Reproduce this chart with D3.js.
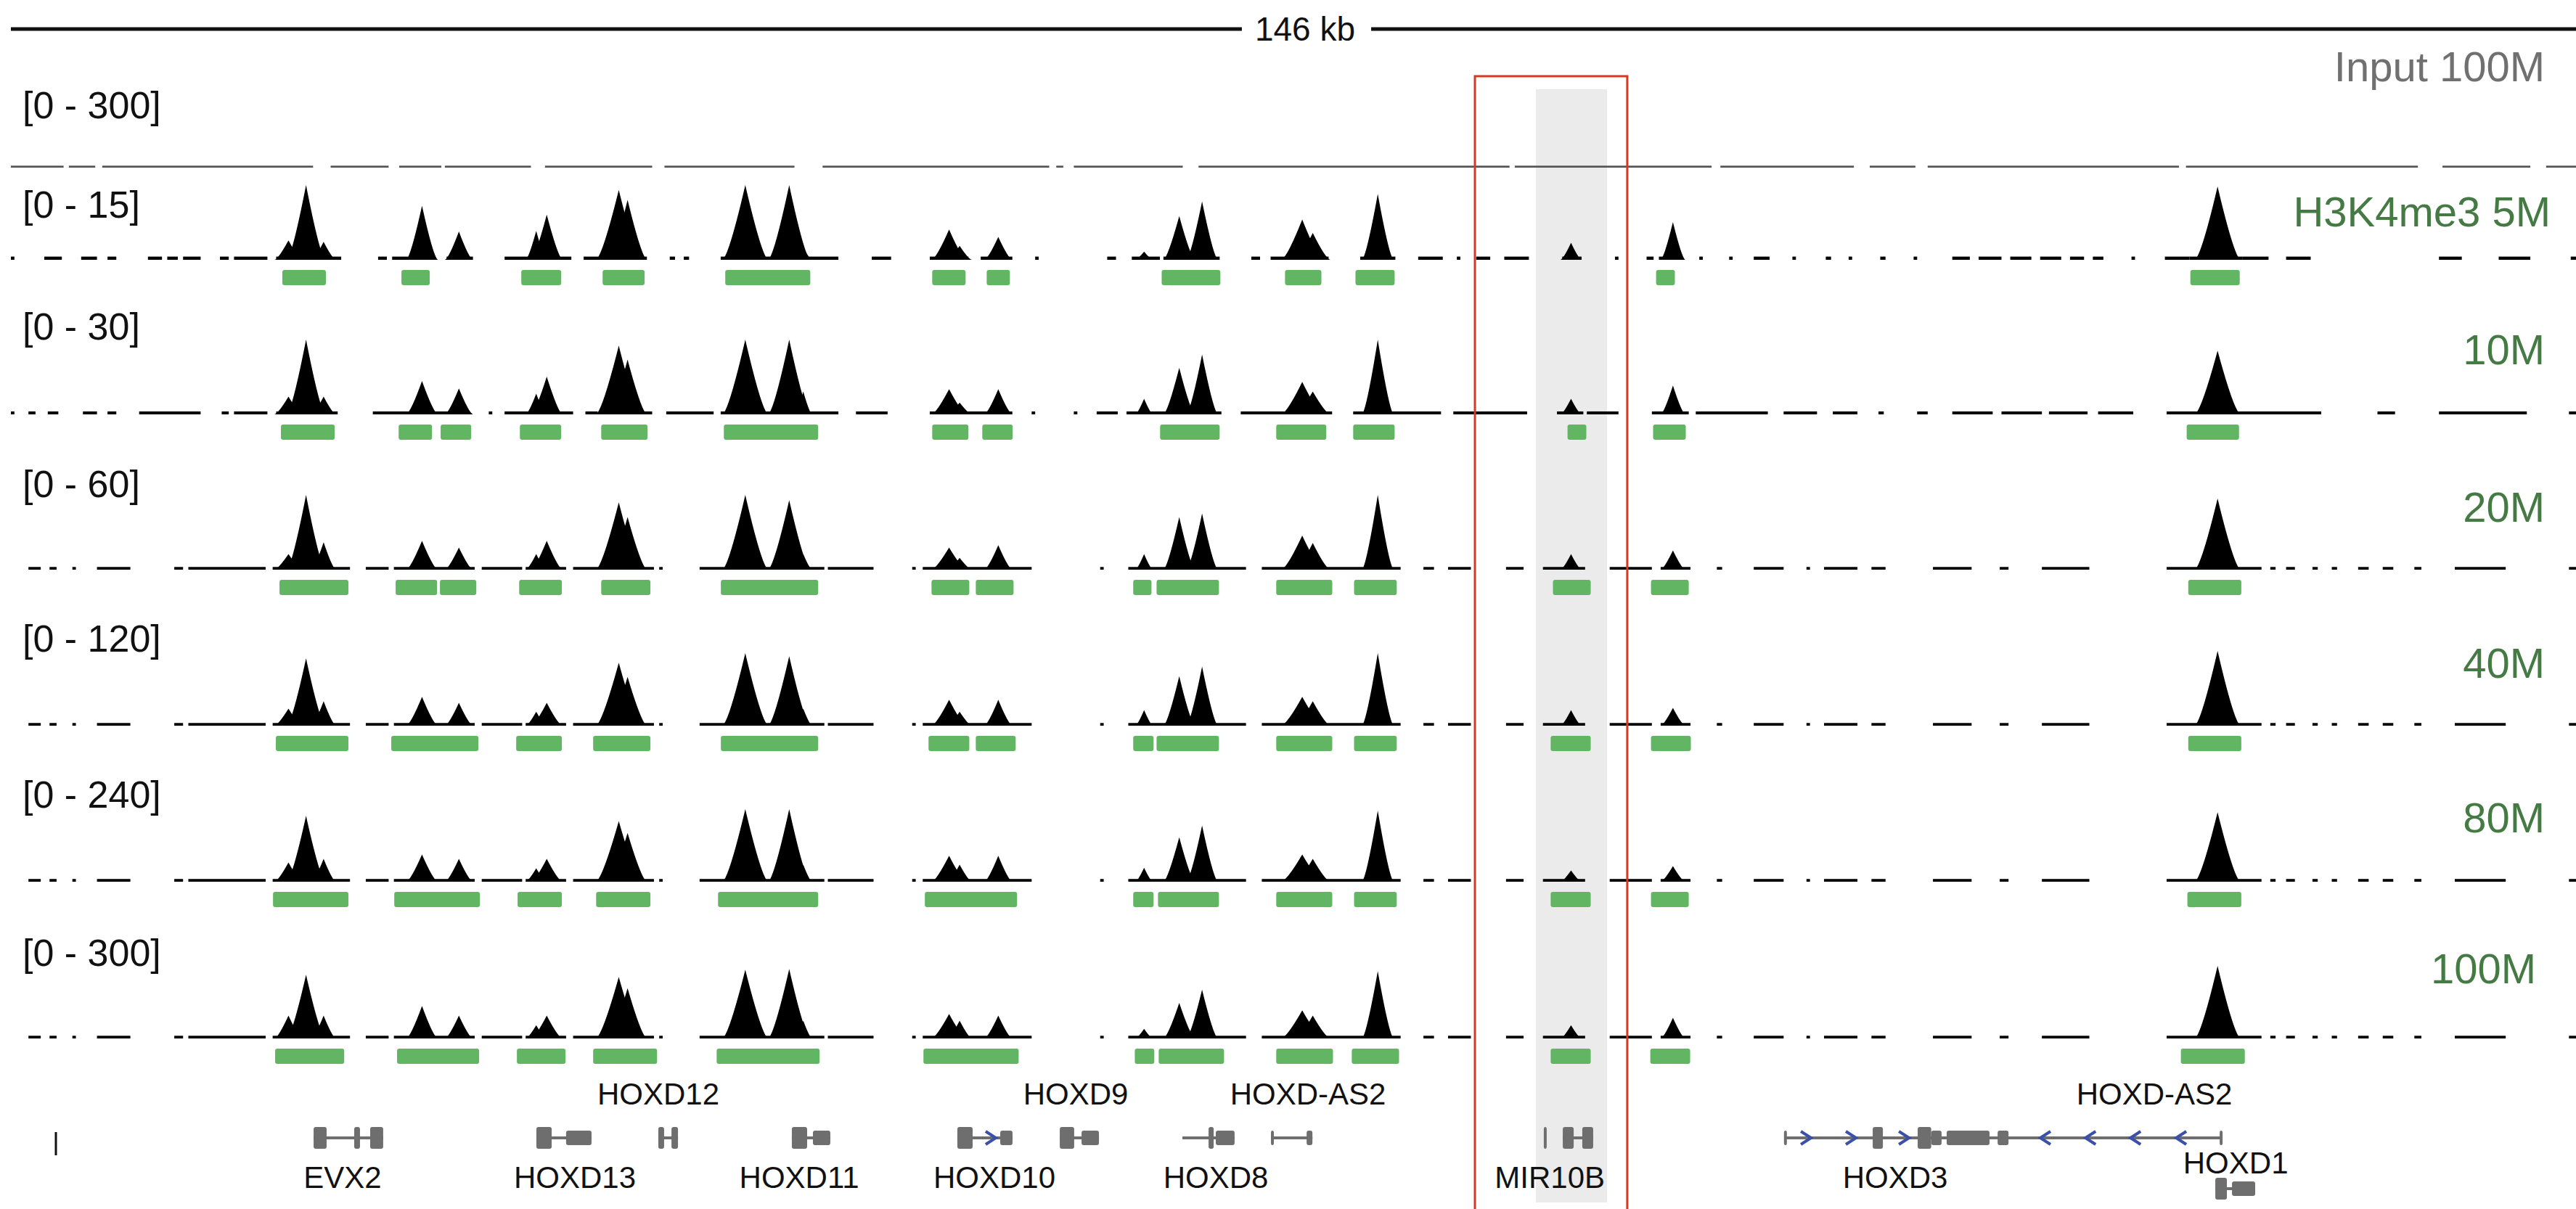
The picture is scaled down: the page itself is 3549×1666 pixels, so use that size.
<!DOCTYPE html>
<html>
<head>
<meta charset="utf-8">
<script src="https://cdn.jsdelivr.net/npm/d3@7"></script>
<style>
  html, body { margin: 0; padding: 0; background: #fff; }
  svg { display: block; font-family: "Liberation Sans", Arial, sans-serif; }
</style>
</head>
<body>
<svg id="chart" width="3549" height="1666"></svg>
<script>
// --- data (all positions in kb inside the 146 kb window) ---
var windowKb = 146;

var trackNames = ['H3K4me3 5M', '10M', '20M', '40M', '80M', '100M'];
var trackRanges = [15, 30, 60, 120, 240, 300];
var bgLevel = [0.5, 0.9, 1.6, 3.2, 6.5, 8];

// sub-peak centres and half widths at the base
var peakKb     = [15.8, 16.8, 17.8, 23.4, 25.5, 29.9, 30.5, 34.6, 35.1, 41.8, 44.3, 45.1, 53.4, 54.0, 56.2, 64.5, 66.5, 67.8, 73.5, 74.1, 77.8, 88.8, 94.6, 125.6];
var peakHalfKb = [0.8, 1.1, 0.7, 0.9, 0.8, 0.6, 0.9, 1.3, 1.1, 1.3, 1.2, 0.5, 1.0, 0.7, 0.8, 0.5, 0.9, 0.9, 1.2, 1.0, 0.9, 0.6, 0.7, 1.3];

var h5M   = [3.8, 15.6, 3.5, 10.8, 5.6, 5.7, 9.0, 14.0, 12.0, 15.6, 15.6, 2.3, 6.0, 2.7, 4.5, 1.5, 8.7, 11.7, 8.0, 5.3, 13.2, 3.3, 7.5, 14.7];
var h10M  = [6.9, 30.6, 6.9, 13.2, 10.2, 8.1, 15.0, 27.6, 21.9, 30.6, 30.6, 9.0, 9.9, 4.5, 9.9, 6.0, 18.6, 24.0, 12.9, 9.0, 30.6, 6.0, 11.4, 25.5];
var h20M  = [12, 60, 21.6, 22.8, 17.4, 12, 22.8, 54, 42, 60, 55.8, 12, 17.4, 9, 19.2, 12, 42, 45, 27, 21, 60, 12, 15, 57];
var h40M  = [26.4, 108, 38.4, 45.6, 36, 21.6, 36, 100.8, 78, 116.4, 111.6, 26.4, 40.8, 21.6, 40.8, 24, 79.2, 94.8, 45.6, 38.4, 116.4, 24, 27.6, 120];
var h80M  = [60, 211, 72, 86, 72, 41, 72, 194, 156, 233, 233, 53, 82, 53, 82, 43, 142, 180, 86, 72, 228, 34, 48, 223];
var h100M = [90, 255, 90, 129, 90, 51, 90, 246, 201, 276, 279, 69, 96, 69, 90, 36, 141, 195, 111, 90, 270, 51, 81, 291];

// peak calls (green bars)
var calls5M = [[15.45,17.93],[22.23,23.84],[29.05,31.32],[33.68,36.07],[40.66,45.50],[52.44,54.34],[55.54,56.86],[65.50,68.84],[72.52,74.59],[76.53,78.76],[93.64,94.71],[124.05,126.86]];
var calls10M = [[15.37,18.43],[22.07,23.97],[24.46,26.20],[28.97,31.32],[33.60,36.24],[40.58,45.95],[52.44,54.50],[55.29,57.02],[65.41,68.80],[72.02,74.87],[76.40,78.76],[88.60,89.67],[93.47,95.33],[123.84,126.82]];
var calls20M = [[15.29,19.21],[21.90,24.26],[24.42,26.49],[28.93,31.36],[33.60,36.40],[40.41,45.95],[52.40,54.55],[54.92,57.07],[63.88,64.92],[65.21,68.76],[72.02,75.21],[76.45,78.88],[87.77,89.92],[93.35,95.50],[123.93,126.95]];
var calls40M = [[15.08,19.21],[21.65,26.61],[28.76,31.36],[33.14,36.40],[40.41,45.95],[52.23,54.55],[54.92,57.19],[63.88,65.04],[65.21,68.76],[72.02,75.21],[76.45,78.88],[87.64,89.92],[93.35,95.62],[123.93,126.95]];
var calls80M = [[14.92,19.21],[21.82,26.69],[28.84,31.36],[33.31,36.40],[40.25,45.95],[52.02,57.27],[63.88,65.04],[65.29,68.76],[72.02,75.21],[76.45,78.88],[87.64,89.92],[93.35,95.50],[123.88,126.95]];
var calls100M = [[15.04,18.97],[21.98,26.65],[28.80,31.57],[33.14,36.78],[40.17,46.03],[51.94,57.36],[63.97,65.08],[65.33,69.05],[72.02,75.25],[76.32,79.01],[87.64,89.92],[93.31,95.58],[123.51,127.15]];

// low background coverage
var inputSegs = [[0,3.0],[3.3,4.8],[5.2,17.2],[18.2,21.5],[22.1,24.5],[24.7,29.6],[30.4,36.5],[37.2,44.6],[46.2,59.1],[59.5,59.9],[60.5,66.7],[67.6,85.3],[85.6,96.8],[97.3,104.9],[105.8,108.4],[109.1,123.4],[123.8,137.0],[138.4,143.4],[144.3,146]];
var bg5M = [[0.0,0.2],[1.9,2.9],[4.0,4.9],[5.5,6.0],[7.8,8.6],[8.9,9.5],[9.8,10.8],[11.9,12.4],[12.7,14.6],[15.1,18.8],[20.9,21.4],[21.7,24.0],[24.8,26.3],[28.1,31.9],[32.6,36.2],[37.5,37.8],[38.3,38.6],[40.4,47.1],[49.0,50.1],[52.3,54.5],[55.2,57.0],[58.3,58.5],[62.4,62.9],[63.8,65.4],[65.6,68.8],[70.6,71.1],[71.7,75.0],[76.8,78.8],[80.1,81.5],[82.3,82.5],[83.4,84.2],[85.0,86.4],[88.3,89.4],[91.3,91.5],[93.1,93.5],[93.8,95.0],[96.1,96.3],[97.8,98.0],[99.2,100.1],[101.4,101.6],[103.3,103.6],[104.6,104.8],[106.4,106.7],[108.3,108.5],[110.5,111.5],[112.0,113.3],[113.8,115.0],[115.5,116.7],[117.2,118.0],[118.5,119.1],[120.7,120.9],[122.6,124.0],[124.0,127.0],[127.0,128.5],[129.5,130.9],[138.2,139.5],[141.6,143.4],[145.7,146]];
var bg10M = [[0.0,0.2],[1.0,1.4],[2.1,2.7],[4.1,4.9],[5.5,6.0],[7.3,10.8],[12.0,12.4],[12.7,14.6],[15.1,18.6],[20.6,26.0],[27.2,27.4],[28.1,32.0],[32.7,33.4],[33.6,36.5],[37.3,40.0],[40.4,47.1],[48.1,49.9],[52.3,57.0],[58.1,58.3],[60.5,60.7],[61.8,63.0],[63.5,68.9],[70.0,75.2],[76.4,81.4],[82.1,86.3],[88.0,89.5],[89.7,91.5],[93.4,95.5],[95.9,100.0],[100.9,102.8],[103.7,105.1],[106.3,106.6],[108.5,109.1],[110.5,112.8],[113.3,115.6],[116.0,118.2],[118.8,120.8],[122.7,131.5],[134.7,135.7],[138.2,143.2],[145.6,146]];
var bgDeep = [[1.0,1.7],[2.2,2.6],[3.5,3.7],[4.9,6.8],[9.3,9.8],[10.1,14.5],[14.9,19.3],[20.2,21.5],[21.8,25.0],[25.2,26.4],[26.8,29.1],[29.3,31.6],[32.0,33.7],[33.9,36.6],[36.9,37.1],[39.2,46.3],[46.5,49.1],[51.3,51.5],[51.9,58.1],[62.0,62.2],[63.6,70.3],[71.2,79.1],[80.4,81.0],[81.8,83.1],[85.1,86.1],[87.2,89.6],[91.0,93.4],[93.9,95.6],[97.1,97.4],[99.2,100.9],[102.2,102.4],[103.2,105.1],[105.9,106.7],[109.4,111.6],[113.2,113.7],[115.6,118.3],[122.7,128.1],[128.6,128.9],[129.5,130.0],[131.0,131.3],[132.1,132.4],[133.6,134.2],[135.0,135.6],[136.8,137.2],[139.1,142.0],[145.6,146]];

// RefSeq genes
var geneNames  = ['HOXD12', 'HOXD9', 'HOXD-AS2', 'HOXD-AS2', 'EVX2', 'HOXD13', 'HOXD11', 'HOXD10', 'HOXD8', 'MIR10B', 'HOXD3', 'HOXD1'];
var geneLabelKb = [36.85, 60.61, 73.83, 122.0, 18.88, 32.10, 44.87, 55.98, 68.58, 87.59, 107.25, 126.63];
var geneLabelRow = [0, 0, 0, 0, 1, 1, 1, 1, 1, 1, 1, 2];
var introns = [[17.23,21.19,0],[29.91,33.05,0],[36.85,37.97,0],[44.45,46.64,0],[53.87,57.01,0],[59.70,61.93,0],[66.68,69.65,0],[71.72,74.08,0],[88.33,90.06,0],[100.97,125.80,0],[125.47,127.74,1]];
var exons = [
  [17.23,17.97,'cds',0],[19.54,19.87,'cds',0],[20.45,21.19,'cds',0],
  [29.91,30.78,'cds',0],[31.60,33.05,'utr',0],
  [36.85,37.18,'cds',0],[37.60,37.97,'cds',0],
  [44.45,45.32,'cds',0],[45.65,46.64,'utr',0],
  [53.87,54.74,'cds',0],[56.31,57.01,'utr',0],
  [59.70,60.52,'cds',0],[60.94,61.93,'utr',0],
  [68.17,68.46,'cds',0],[68.58,69.65,'utr',0],
  [71.72,71.85,'utr',0],[73.75,74.08,'utr',0],
  [87.25,87.33,'cds',0],[88.33,88.95,'cds',0],[89.44,90.06,'cds',0],
  [100.92,101.02,'utr',0],[105.97,106.55,'cds',0],[108.53,109.30,'cds',0],[109.30,109.89,'utr',0],[110.18,112.62,'utr',0],[113.08,113.70,'utr',0],[125.72,125.82,'utr',0],
  [125.47,126.13,'cds',1],[126.42,127.74,'utr',1]
];
var strandArrows = [[55.77,1],[102.17,1],[104.73,1],[107.75,1],[115.80,-1],[118.37,-1],[120.93,-1],[123.53,-1]];

var highlightKb = [86.8, 90.85];
var boxKb = [83.33, 92.0];

// --- drawing ---
var svg = d3.select('#chart');
svg.append('rect').attr('width', 3549).attr('height', 1666).attr('fill', '#fff');

var x = d3.scaleLinear().domain([0, windowKb]).range([15, 3549]);

// grey highlight behind the tracks
svg.append('rect')
  .attr('x', x(highlightKb[0])).attr('y', 123)
  .attr('width', x(highlightKb[1]) - x(highlightKb[0])).attr('height', 1534)
  .attr('fill', '#ebebeb');

// ruler
var rulerY = 40;
var rulerLabel = svg.append('text')
  .attr('x', 1798).attr('y', 56)
  .attr('text-anchor', 'middle').attr('font-size', 46).attr('fill', '#111')
  .text('146 kb');
var bb = rulerLabel.node().getBBox();
svg.append('line').attr('x1', x(0)).attr('x2', bb.x - 18).attr('y1', rulerY).attr('y2', rulerY)
  .attr('stroke', '#111').attr('stroke-width', 5);
svg.append('line').attr('x1', bb.x + bb.width + 22).attr('x2', x(windowKb)).attr('y1', rulerY).attr('y2', rulerY)
  .attr('stroke', '#111').attr('stroke-width', 5);

var trackH = 102;

// input track: faint dashed coverage
var inputBase = 230;
var yIn = d3.scaleLinear().domain([0, 300]).range([inputBase, inputBase - trackH]).clamp(true);
svg.append('g').selectAll('rect').data(inputSegs).enter().append('rect')
  .attr('x', function(d) { return x(d[0]); })
  .attr('width', function(d) { return Math.max(2, x(d[1]) - x(d[0])); })
  .attr('y', yIn(5)).attr('height', inputBase - yIn(5) + 1)
  .attr('fill', '#555');
svg.append('text').attr('x', 31).attr('y', 163).attr('font-size', 52).attr('fill', '#111').text('[0 - 300]');
svg.append('text').attr('x', 3506).attr('y', 112).attr('text-anchor', 'end')
  .attr('font-size', 58).attr('fill', '#707070').text('Input 100M');

// ChIP tracks
var heights = [h5M, h10M, h20M, h40M, h80M, h100M];
var calls = [calls5M, calls10M, calls20M, calls40M, calls80M, calls100M];
var bgs = [bg5M, bg10M, bgDeep, bgDeep, bgDeep, bgDeep];
var baselines = [357, 570, 784, 999, 1214, 1430];
var leftLabelY = [300, 468, 685, 898, 1113, 1331];
var rightLabelY = [312, 502, 719, 934, 1147, 1355];
var rightLabelX = [3514, 3506, 3506, 3506, 3506, 3494];

function peakPath(c, hw, v, y, base) {
  var x0 = x(c - hw), x1 = x(c + hw), xc = x(c), yt = y(v);
  var p = d3.path();
  p.moveTo(x0, base);
  p.quadraticCurveTo(xc - (xc - x0) * 0.72, base - (base - yt) * 0.05, xc, yt);
  p.quadraticCurveTo(xc + (x1 - xc) * 0.72, base - (base - yt) * 0.05, x1, base);
  p.closePath();
  return p.toString();
}

trackNames.forEach(function(name, t) {
  var base = baselines[t];
  var y = d3.scaleLinear().domain([0, trackRanges[t]]).range([base, base - trackH]).clamp(true);
  var g = svg.append('g');

  g.selectAll('rect.bg').data(bgs[t]).enter().append('rect')
    .attr('class', 'bg')
    .attr('x', function(d) { return x(d[0]); })
    .attr('width', function(d) { return Math.max(3, x(d[1]) - x(d[0])); })
    .attr('y', y(bgLevel[t])).attr('height', base - y(bgLevel[t]) + 1)
    .attr('fill', '#000');

  g.selectAll('path.peak').data(heights[t]).enter().append('path')
    .attr('class', 'peak')
    .attr('d', function(v, i) { return peakPath(peakKb[i], peakHalfKb[i], v, y, base + 1); })
    .attr('fill', '#000');

  g.selectAll('rect.call').data(calls[t]).enter().append('rect')
    .attr('class', 'call')
    .attr('x', function(d) { return x(d[0]); })
    .attr('width', function(d) { return x(d[1]) - x(d[0]); })
    .attr('y', base + 15).attr('height', 21).attr('rx', 3)
    .attr('fill', '#62b562');

  g.append('text').attr('x', 31).attr('y', leftLabelY[t])
    .attr('font-size', 52).attr('fill', '#111')
    .text('[0 - ' + trackRanges[t] + ']');
  g.append('text').attr('x', rightLabelX[t]).attr('y', rightLabelY[t])
    .attr('text-anchor', 'end').attr('font-size', 58).attr('fill', '#457a45')
    .text(name);
});

// genes
var geneRowY = [1568, 1638];
var geneCol = '#6e6e6e';
var gg = svg.append('g');
gg.selectAll('line.intron').data(introns).enter().append('line')
  .attr('x1', function(d) { return x(d[0]); })
  .attr('x2', function(d) { return x(d[1]); })
  .attr('y1', function(d) { return geneRowY[d[2]]; })
  .attr('y2', function(d) { return geneRowY[d[2]]; })
  .attr('stroke', geneCol).attr('stroke-width', 4);
gg.selectAll('rect.exon').data(exons).enter().append('rect')
  .attr('x', function(d) { return x(d[0]); })
  .attr('width', function(d) { return Math.max(4, x(d[1]) - x(d[0])); })
  .attr('y', function(d) { return geneRowY[d[3]] - (d[2] === 'cds' ? 15 : 10); })
  .attr('height', function(d) { return d[2] === 'cds' ? 30 : 20; })
  .attr('rx', 3).attr('fill', geneCol);
gg.selectAll('path.arrow').data(strandArrows).enter().append('path')
  .attr('d', function(d) {
    var cx = x(d[0]), cy = geneRowY[0], s = 7 * d[1];
    return 'M' + (cx - s) + ',' + (cy - 9) + 'L' + (cx + s) + ',' + cy + 'L' + (cx - s) + ',' + (cy + 9);
  })
  .attr('fill', 'none').attr('stroke', '#3b50a8').attr('stroke-width', 4);

var labelRowY = [1522, 1637, 1617];
gg.selectAll('text.gene').data(geneNames).enter().append('text')
  .attr('x', function(d, i) { return x(geneLabelKb[i]); })
  .attr('y', function(d, i) { return labelRowY[geneLabelRow[i]]; })
  .attr('text-anchor', 'middle').attr('font-size', 42).attr('fill', '#111')
  .text(function(d) { return d; });

// small tick at far left of the gene track
svg.append('line').attr('x1', 77).attr('x2', 77).attr('y1', 1560).attr('y2', 1592)
  .attr('stroke', '#111').attr('stroke-width', 3);

// red region box
svg.append('rect')
  .attr('x', x(boxKb[0])).attr('y', 105)
  .attr('width', x(boxKb[1]) - x(boxKb[0])).attr('height', 1580)
  .attr('fill', 'none').attr('stroke', '#d13b26').attr('stroke-width', 3);
</script>
</body>
</html>
